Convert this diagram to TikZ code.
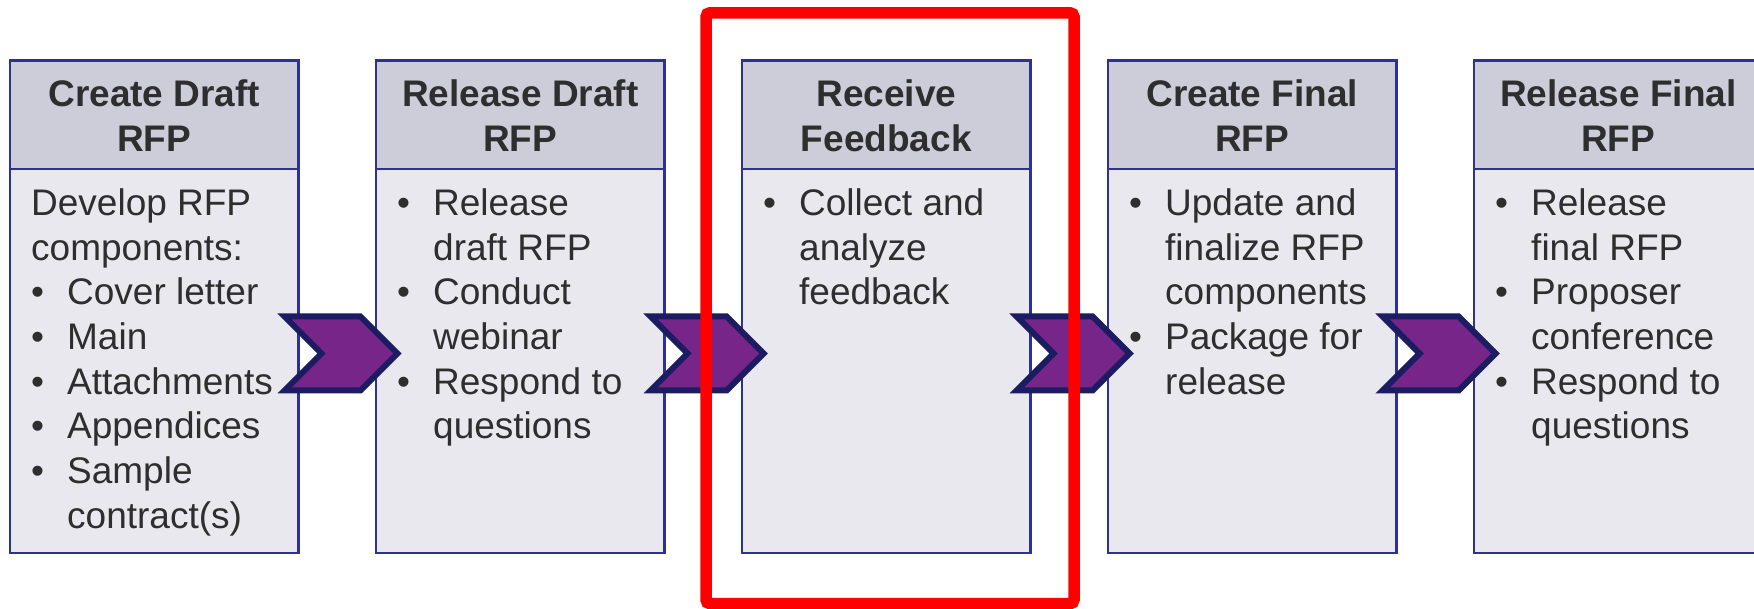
\documentclass[tikz,border=0pt]{standalone}
\usepackage{fontspec}
\setmainfont{Liberation Sans}
\definecolor{bordc}{HTML}{2E3192}
\definecolor{hdrfill}{HTML}{CDCDDA}
\definecolor{bodyfill}{HTML}{E8E8EE}
\definecolor{txtc}{HTML}{2E2E2E}
\definecolor{chevfill}{HTML}{772589}
\definecolor{chevline}{HTML}{1C1C63}
\newcommand\bu{\makebox[36pt][l]{•}}
\newcommand\ib{\hspace*{36pt}}
\begin{document}
\begin{tikzpicture}[x=1pt,y=-1pt,
  hdrbox/.style={draw=bordc, fill=hdrfill, line width=2.4pt, inner sep=0pt, outer sep=0pt,
     minimum width=288.5pt, minimum height=108.3pt, anchor=north west},
  bodybox/.style={draw=bordc, fill=bodyfill, line width=2.4pt, inner sep=0pt, outer sep=0pt,
     minimum width=288.5pt, minimum height=384pt, anchor=north west},
  bodytxt/.style={inner sep=0pt, text=txtc, font=\fontsize{37}{44.7}\selectfont, anchor=base west},
  hdrtxt/.style={inner sep=0pt, text=txtc, font=\fontsize{37}{44.7}\selectfont\bfseries, anchor=base},
  chev/.style={draw=chevline, fill=chevfill, line width=6pt, line join=miter},
  hilite/.style={draw=red, line width=11.5pt, rounded corners=4pt, inner sep=0pt, outer sep=0pt,
     minimum width=368pt, minimum height=590.9pt, anchor=north west}]
\useasboundingbox (0,0) rectangle (1754,609);
\clip (0,0) rectangle (1754,609);
% boxes
\foreach \i/\x in {1/10,2/376,3/742,4/1108,5/1474}{
  \node[hdrbox] (h\i) at (\x,60.5) {};
  \node[bodybox] (b\i) at (\x,168.8) {};
}
% headers
\node[hdrtxt] (t1) at (154.25,107) {\begin{tabular}[t]{@{}c@{}}Create Draft\\RFP\end{tabular}};
\node[hdrtxt] (t2) at (520.25,107) {\begin{tabular}[t]{@{}c@{}}Release Draft\\RFP\end{tabular}};
\node[hdrtxt] (t3) at (886.25,107) {\begin{tabular}[t]{@{}c@{}}Receive\\Feedback\end{tabular}};
\node[hdrtxt] (t4) at (1252.25,107) {\begin{tabular}[t]{@{}c@{}}Create Final\\RFP\end{tabular}};
\node[hdrtxt] (t5) at (1618.25,107) {\begin{tabular}[t]{@{}c@{}}Release Final\\RFP\end{tabular}};
% bodies
\node[bodytxt] (c1) at (31,215.5) {\begin{tabular}[t]{@{}l@{}}Develop RFP\\components:\\\bu Cover letter\\\bu Main\\\bu Attachments\\\bu Appendices\\\bu Sample\\\ib contract(s)\end{tabular}};
\node[bodytxt] (c2) at (397,215.5) {\begin{tabular}[t]{@{}l@{}}\bu Release\\\ib draft RFP\\\bu Conduct\\\ib webinar\\\bu Respond to\\\ib questions\end{tabular}};
\node[bodytxt] (c3) at (763,215.5) {\begin{tabular}[t]{@{}l@{}}\bu Collect and\\\ib analyze\\\ib feedback\end{tabular}};
\node[bodytxt] (c4) at (1129,215.5) {\begin{tabular}[t]{@{}l@{}}\bu Update and\\\ib finalize RFP\\\ib components\\\bu Package for\\\ib release\end{tabular}};
\node[bodytxt] (c5) at (1495,215.5) {\begin{tabular}[t]{@{}l@{}}\bu Release\\\ib final RFP\\\bu Proposer\\\ib conference\\\bu Respond to\\\ib questions\end{tabular}};
% chevrons
\foreach \i/\x in {1/284.5,2/650.5,3/1016.5,4/1382.5}{
  \coordinate (ch\i) at (\x,316.5);
  \draw[chev] (ch\i) -- ++(76,0) -- ++(37,37) -- ++(-37,37) -- ++(-76,0) -- ++(37,-37) -- cycle;
}
% highlight
\node[hilite] (hl) at (706,12.8) {};
\end{tikzpicture}
\end{document}
